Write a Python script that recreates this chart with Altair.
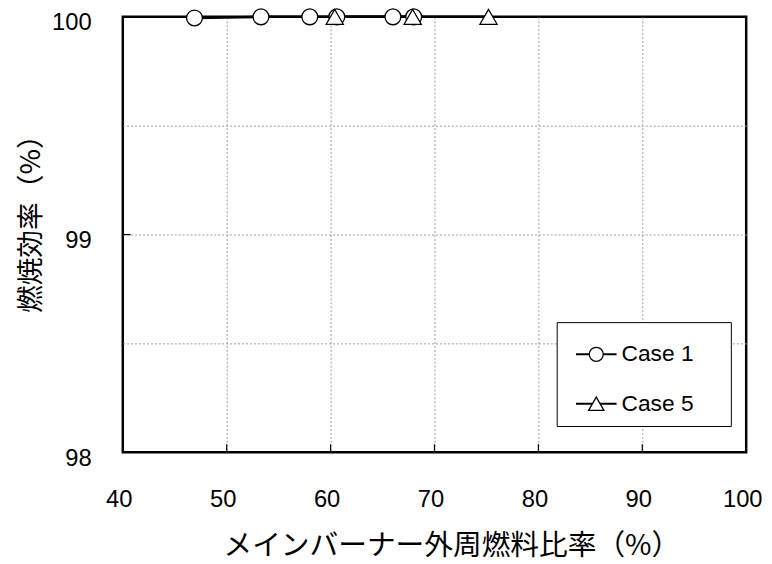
import altair as alt
import pandas as pd

# data
case1_x = [46.9, 53.3, 58.0, 60.6, 66.0, 68.0]
case1_y = [99.995, 100.0, 100.0, 100.0, 100.0, 100.0]
case5_x = [60.4, 67.9, 75.2]
case5_y = [100.0, 100.0, 100.0]
case_names = ["Case 1", "Case 5"]

x_ticks = [40, 50, 60, 70, 80, 90, 100]
y_grid = [98, 98.5, 99, 99.5, 100]
x_inner_ticks = [50, 60, 70, 80, 90]
y_inner_ticks = [99]

df = pd.DataFrame({
    "x": case1_x + case5_x,
    "y": case1_y + case5_y,
    "case": [case_names[0]] * len(case1_x) + [case_names[1]] * len(case5_x),
})

W, H = 630, 440
NUM_FONT = "Liberation Sans"
JP_FONT = "Noto Sans CJK JP"
SHAPES = ["circle", "triangle-up"]
SIZES = [256, 300]

xscale = alt.Scale(domain=[40, 100], nice=False, zero=False)
yscale = alt.Scale(domain=[98, 100], nice=False, zero=False)

edge_x = {"condition": {"test": "datum.value == 40 || datum.value == 100", "value": 0}, "value": 1}
edge_y = {"condition": {"test": "datum.value == 98 || datum.value == 100", "value": 0}, "value": 1}

xaxis = alt.Axis(values=x_ticks, format="d", grid=True, ticks=False, domain=False,
                 gridColor="#9a9a9a", gridDash=[2, 2], gridWidth=1, gridOpacity=edge_x,
                 labelFont=NUM_FONT, labelFontSize=24, labelColor="black", labelPadding=36,
                 labelFlush=False, labelOffset=-4,
                 title="メインバーナー外周燃料比率（%）", titleFont=JP_FONT, titleFontSize=29,
                 titleFontWeight="normal", titleColor="black", titlePadding=20, titleX=332)
yaxis = alt.Axis(values=y_grid, grid=True, ticks=False, domain=False,
                 gridColor="#9a9a9a", gridDash=[2, 2], gridWidth=1, gridOpacity=edge_y,
                 labelExpr="datum.value % 1 == 0 ? format(datum.value, 'd') : ''",
                 labelFont=NUM_FONT, labelFontSize=24, labelColor="black", labelPadding=32,
                 labelFlush=False, labelOffset=6,
                 title="燃焼効率（%）", titleFont=JP_FONT, titleFontSize=28,
                 titleFontWeight="normal", titleColor="black", titlePadding=6, titleY=202)

base = alt.Chart(df)

lines = base.mark_line(color="black", strokeWidth=2.5).encode(
    x=alt.X("x:Q", scale=xscale, axis=xaxis),
    y=alt.Y("y:Q", scale=yscale, axis=yaxis),
    detail="case:N",
)

points = base.mark_point(filled=True, fill="white", stroke="black", strokeWidth=1.3, opacity=1).encode(
    x="x:Q",
    y="y:Q",
    shape=alt.Shape("case:N", scale=alt.Scale(domain=case_names, range=SHAPES), legend=None),
    size=alt.Size("case:N", scale=alt.Scale(domain=case_names, range=SIZES), legend=None),
)

xt = alt.Chart(pd.DataFrame({"v": x_inner_ticks})).mark_rule(color="black", strokeWidth=1.2).encode(
    x=alt.X("v:Q", scale=xscale), y=alt.value(H), y2=alt.value(H - 8))
yt = alt.Chart(pd.DataFrame({"v": y_inner_ticks})).mark_rule(color="black", strokeWidth=1.2).encode(
    y=alt.Y("v:Q", scale=yscale), x=alt.value(0), x2=alt.value(8))

# legend box (drawn by hand, inside the plot)
LEG_X0, LEG_X1, LEG_Y0, LEG_Y1 = 439, 615, 309, 414
LEG_ROWS_Y = [341, 391]
legend_box = alt.Chart(pd.DataFrame({"k": [0]})).mark_rect(
    fill="white", stroke="black", strokeWidth=1).encode(
    x=alt.value(LEG_X0), x2=alt.value(LEG_X1), y=alt.value(LEG_Y0), y2=alt.value(LEG_Y1))

legend_layers = [legend_box]
for name, shp, ry in zip(case_names, SHAPES, LEG_ROWS_Y):
    row = alt.Chart(pd.DataFrame({"case": [name]}))
    legend_layers.append(row.mark_rule(color="black", strokeWidth=2).encode(
        x=alt.value(458), x2=alt.value(499), y=alt.value(ry)))
    legend_layers.append(row.mark_point(shape=shp, filled=True, fill="white", stroke="black",
                                        strokeWidth=1.3, opacity=1, size=200 if shp == "circle" else 240).encode(
        x=alt.value(478.5), y=alt.value(ry)))
    legend_layers.append(row.mark_text(align="left", baseline="middle", font=NUM_FONT,
                                       fontSize=23, color="black").encode(
        x=alt.value(504), y=alt.value(ry), text="case:N"))

chart = alt.layer(xt, yt, lines, points, *legend_layers).properties(
    width=W, height=H,
    background="white",
    autosize=alt.AutoSizeParams(type="none"),
    padding={"left": 116, "top": 6, "right": 18, "bottom": 110},
).configure_view(stroke="black", strokeWidth=2.5)

chart.save("out.html", embed_options={"renderer": "svg", "actions": False})
